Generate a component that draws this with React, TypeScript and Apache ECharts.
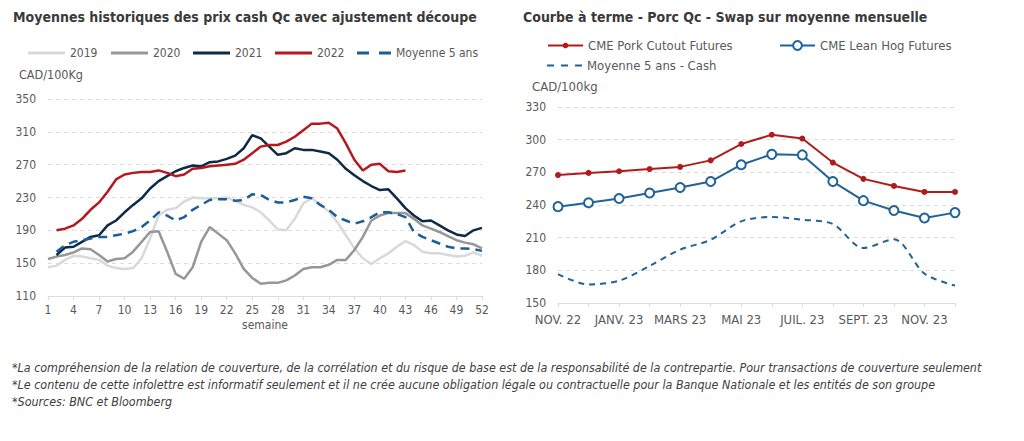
import React, { useEffect, useRef } from "react";
import * as echarts from "echarts";

const FONT = "'DejaVu Sans Condensed', 'DejaVu Sans', sans-serif";

const weeks = ["1","2","3","4","5","6","7","8","9","10","11","12","13","14","15","16","17","18","19","20","21","22","23","24","25","26","27","28","29","30","31","32","33","34","35","36","37","38","39","40","41","42","43","44","45","46","47","48","49","50","51","52"];

const y2019 = [145,147,154,159,158,156,154,147,144,143, 144,156,180,208,215,217,225,230,229,229, 229,230,226,221,218,212,202,191,190,204, 223,229,221,213,200,184,168,156,149,156, 162,170,177,172,164,162,162,160,158,159, 163,159];
const y2020 = [155,158,160,163,168,167,160,152,155,156, 164,176,188,189,164,137,131,145,176,194, 186,178,162,143,132,125,126,126,129,135, 143,145,145,148,154,154,166,182,202,208, 211,211,211,204,196,192,188,183,178,175, 173,168];
const y2021 = [null,160,169,170,176,182,184,196,202,212, 221,229,241,250,256,262,266,269,268,273, 274,277,281,290,306,302,292,282,284,290, 288,288,286,284,276,265,257,250,244,239, 240,229,217,208,201,202,196,190,185,183, 190,193];
const y2022 = [null,190,192,196,204,215,224,237,252,258, 260,261,261,263,260,256,258,265,266,268, 269,270,271,276,284,292,294,294,298,304, 312,320,320,321,314,296,276,263,270,271, 262,261,263];
const avg5 = [null,164,172,176,178,180,182,182,184,186, 189,194,202,212,208,202,206,215,221,227, 228,228,226,227,234,233,227,224,224,227, 231,229,221,215,206,202,198,201,206,212, 212,210,206,188,182,178,174,170,168,168, 167,165];

const months = ["NOV. 22","DÉC. 22","JANV. 23","FÉVR. 23","MARS 23","AVR. 23","MAI 23","JUIN 23","JUIL. 23","AOÛT 23","SEPT. 23","OCT. 23","NOV. 23","DÉC. 23"];
const porkCutout = [267.5,269.5,271,273,275,281,296,304.5,301,279,264,257.5,252,252];
const leanHog = [238.5,242,246,251,256,261.5,277,286.5,286,261.5,244,235,228,233];
const cash5 = [176.5,167,170.5,184,199,208,225,229,226.5,222.5,200.5,208.5,177,166];

const footnotes = [
  "*La compréhension de la relation de couverture, de la corrélation et du risque de base est de la responsabilité de la contrepartie. Pour transactions de couverture seulement",
  "*Le contenu de cette infolettre est informatif seulement et il ne crée aucune obligation légale ou contractuelle pour la Banque Nationale et les entités de son groupe",
  "*Sources: BNC et Bloomberg",
];

const C = {
  title: "#3a3a3a",
  label: "#595959",
  grid: "#dcdcdc",
  c2019: "#d9d9d9",
  c2020: "#979797",
  c2021: "#0f2a47",
  c2022: "#b4191f",
  avg: "#1d5e96",
  pork: "#b01c1c",
  lean: "#1f6399",
};

const DASH2 = "path://M0,0H12V3H0Z M22,0H34V3H22Z";
const DASH3 = "path://M0,0H7V2H0Z M14,0H21V2H14Z M28,0H35V2H28Z";

export default function App() {
  const ref = useRef<HTMLDivElement>(null);
  useEffect(() => {
    if (!ref.current) return;
    const chart = echarts.init(ref.current, null, { renderer: "svg" });
    const mkLegend = (name: string, left: number, top: number, extra: any = {}, fontSize = 12) => ({
      data: [name],
      left,
      top,
      padding: 0,
      itemWidth: 37,
      itemHeight: 3,
      icon: "rect",
      textStyle: { color: C.label, fontFamily: FONT, fontSize },
      selectedMode: false,
      ...extra,
    });
    const axisLabel = { color: C.label, fontFamily: FONT, fontSize: 12 };
    chart.setOption({
      animation: false,
      textStyle: { fontFamily: FONT },
      title: [
        { text: "Moyennes historiques des prix cash Qc avec ajustement découpe", left: 13, top: 10, padding: 0, textStyle: { color: C.title, fontFamily: FONT, fontSize: 14, fontWeight: "bold" } },
        { text: "Courbe à terme - Porc Qc - Swap sur moyenne mensuelle", left: 523, top: 10, padding: 0, textStyle: { color: C.title, fontFamily: FONT, fontSize: 14, fontWeight: "bold" } },
      ],
      legend: [
        mkLegend("2019", 28, 47),
        mkLegend("2020", 111, 47),
        mkLegend("2021", 193, 47),
        mkLegend("2022", 275, 47),
        mkLegend("Moyenne 5 ans", 357, 47, { icon: DASH2, itemWidth: 34, itemHeight: 3 }),
        mkLegend("CME Pork Cutout Futures", 547, 39, { icon: undefined, itemWidth: 35, itemHeight: 7 }, 13),
        mkLegend("CME Lean Hog Futures", 779, 39, { icon: undefined, itemWidth: 35, itemHeight: 11 }, 13),
        mkLegend("Moyenne 5 ans - Cash", 547, 59, { icon: DASH3, itemWidth: 35, itemHeight: 2 }, 13),
      ],
      grid: [
        { left: 48, top: 99, width: 434, height: 197 },
        { left: 558, top: 107, width: 397, height: 196 },
      ],
      xAxis: [
        {
          gridIndex: 0, type: "category", data: weeks, boundaryGap: false,
          name: "semaine", nameLocation: "middle", nameGap: 23,
          nameTextStyle: { color: C.label, fontFamily: FONT, fontSize: 12 },
          axisLine: { lineStyle: { color: C.grid } },
          axisTick: { interval: 2, length: 4, lineStyle: { color: C.grid } },
          axisLabel: { ...axisLabel, interval: 2, margin: 8 },
        },
        {
          gridIndex: 1, type: "category", data: months, boundaryGap: false,
          axisLine: { lineStyle: { color: C.grid } },
          axisTick: { interval: 0, length: 4, lineStyle: { color: C.grid } },
          axisLabel: { ...axisLabel, fontSize: 13, interval: 1, margin: 10 },
        },
      ],
      yAxis: [
        {
          gridIndex: 0, type: "value", min: 110, max: 350, interval: 40,
          axisLine: { show: false }, axisTick: { show: false },
          axisLabel: { ...axisLabel, margin: 12 },
          splitLine: { lineStyle: { color: C.grid, type: [4, 4] } },
        },
        {
          gridIndex: 1, type: "value", min: 150, max: 330, interval: 30,
          axisLine: { show: false }, axisTick: { show: false },
          axisLabel: { ...axisLabel, margin: 12 },
          splitLine: { lineStyle: { color: C.grid, type: [4, 4] } },
        },
      ],
      series: [
        { name: "2019", type: "line", xAxisIndex: 0, yAxisIndex: 0, data: y2019, symbol: "none", lineStyle: { color: C.c2019, width: 2.5 }, itemStyle: { color: C.c2019 } },
        { name: "2020", type: "line", xAxisIndex: 0, yAxisIndex: 0, data: y2020, symbol: "none", lineStyle: { color: C.c2020, width: 2.5 }, itemStyle: { color: C.c2020 } },
        { name: "2021", type: "line", xAxisIndex: 0, yAxisIndex: 0, data: y2021, symbol: "none", lineStyle: { color: C.c2021, width: 2.5 }, itemStyle: { color: C.c2021 } },
        { name: "2022", type: "line", xAxisIndex: 0, yAxisIndex: 0, data: y2022, symbol: "none", lineStyle: { color: C.c2022, width: 2.5 }, itemStyle: { color: C.c2022 } },
        { name: "Moyenne 5 ans", type: "line", xAxisIndex: 0, yAxisIndex: 0, data: avg5, symbol: "none", lineStyle: { color: C.avg, width: 2.5, type: [9, 6] }, itemStyle: { color: C.avg } },
        { name: "CME Pork Cutout Futures", type: "line", xAxisIndex: 1, yAxisIndex: 1, data: porkCutout, symbol: "circle", symbolSize: 6, lineStyle: { color: C.pork, width: 2 }, itemStyle: { color: C.pork } },
        { name: "CME Lean Hog Futures", type: "line", xAxisIndex: 1, yAxisIndex: 1, data: leanHog, symbol: "circle", symbolSize: 9, lineStyle: { color: C.lean, width: 2 }, itemStyle: { color: "#ffffff", borderColor: C.lean, borderWidth: 2 } },
        { name: "Moyenne 5 ans - Cash", type: "line", xAxisIndex: 1, yAxisIndex: 1, data: cash5, symbol: "none", smooth: 0.3, lineStyle: { color: C.lean, width: 2, type: [6, 5] }, itemStyle: { color: C.lean } },
      ],
      graphic: [
        { type: "text", left: 19, top: 68, style: { text: "CAD/100Kg", fill: C.label, font: `12.5px ${FONT}` } },
        { type: "text", left: 532, top: 80, style: { text: "CAD/100kg", fill: C.label, font: `13px ${FONT}` } },
        ...footnotes.map((t, i) => ({ type: "text", left: 12, top: 361 + i * 17, style: { text: t, fill: "#404040", font: `italic 12.4px ${FONT}` } })),
      ],
    });
    return () => chart.dispose();
  }, []);
  return <div ref={ref} style={{ position: "absolute", left: 0, top: 0, width: 1024, height: 441, background: "#fff" }} />;
}
